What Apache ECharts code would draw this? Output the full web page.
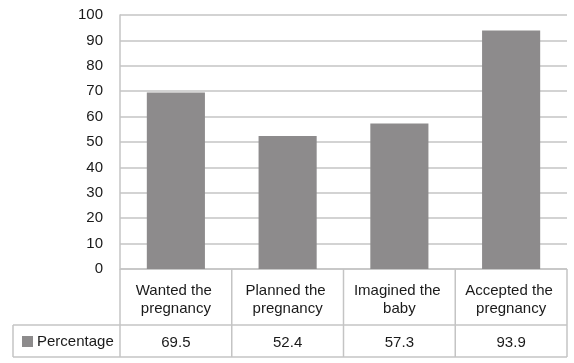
<!DOCTYPE html>
<html>
<head>
<meta charset="utf-8">
<script src="https://cdn.jsdelivr.net/npm/echarts@6/dist/echarts.min.js"></script>
<style>
html,body{margin:0;padding:0;background:#fff;}
#main{width:574px;height:363px;}
</style>
</head>
<body>
<div id="main"></div>
<script>
// data
var categories = ['Wanted the pregnancy', 'Planned the pregnancy', 'Imagined the baby', 'Accepted the pregnancy'];
var seriesName = 'Percentage';
var values = [69.5, 52.4, 57.3, 93.9];
var yTicks = [0, 10, 20, 30, 40, 50, 60, 70, 80, 90, 100];

// layout of the plot and the data table under it
var L = 120, R = 567, T = 15, B = 269;
var rowMid = 325, rowEnd = 357, tableLeft = 13;
var lineColor = '#c4c4c4';
var font = 'Liberation Sans, Arial, sans-serif';

var myChart = echarts.init(document.getElementById('main'));

// table borders
var borders = [];
function hline(x1, x2, y) {
    borders.push({type: 'line', shape: {x1: x1, y1: y, x2: x2, y2: y}, style: {stroke: lineColor, lineWidth: 1.5}});
}
function vline(x, y1, y2) {
    borders.push({type: 'line', shape: {x1: x, y1: y1, x2: x, y2: y2}, style: {stroke: lineColor, lineWidth: 1.5}});
}
hline(L, R, B);
hline(tableLeft, R, rowMid);
hline(tableLeft, R, rowEnd);
vline(tableLeft, rowMid, rowEnd);
var cw = (R - L) / categories.length;
for (var i = 0; i <= categories.length; i++) {
    vline(L + cw * i, B, rowEnd);
}

var option = {
    backgroundColor: '#fff',
    animation: false,
    textStyle: {fontFamily: font},
    grid: {left: L, right: 574 - R, top: T, bottom: 363 - B, containLabel: false},
    legend: {
        data: [seriesName],
        left: 17,
        top: 329,
        itemWidth: 11,
        itemHeight: 11,
        icon: 'rect',
        textStyle: {fontSize: 15, color: '#1a1a1a', fontFamily: font, padding: [0, 0, 0, -1]}
    },
    xAxis: [{
        type: 'category',
        data: categories,
        axisLine: {show: false},
        axisTick: {show: false},
        axisLabel: {
            interval: 0,
            margin: 13,
            fontSize: 15,
            color: '#1a1a1a',
            lineHeight: 18,
            width: 100,
            overflow: 'break',
            align: 'center'
        }
    }, {
        type: 'category',
        position: 'bottom',
        offset: 66,
        data: values.map(function (v) { return v.toFixed(1); }),
        axisLine: {show: false},
        axisTick: {show: false},
        axisLabel: {interval: 0, margin: 0, fontSize: 15, color: '#1a1a1a'}
    }],
    yAxis: {
        type: 'value',
        min: yTicks[0],
        max: yTicks[yTicks.length - 1],
        interval: yTicks[1] - yTicks[0],
        axisLine: {show: true, lineStyle: {color: lineColor, width: 1.5}},
        axisTick: {show: false},
        axisLabel: {fontSize: 15, color: '#1a1a1a', margin: 17},
        splitLine: {show: true, lineStyle: {color: lineColor, width: 1.5}}
    },
    series: [{
        name: seriesName,
        type: 'bar',
        xAxisIndex: 0,
        barWidth: '52%',
        itemStyle: {color: '#8d8b8c'},
        data: values
    }],
    graphic: borders
};

myChart.setOption(option);
</script>
</body>
</html>
